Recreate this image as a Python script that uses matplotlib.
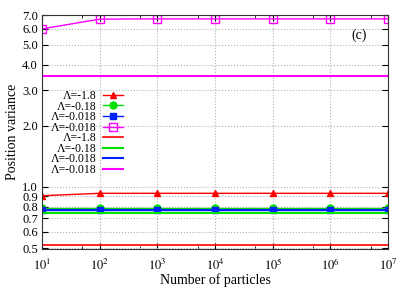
import matplotlib
matplotlib.use('Agg')
import matplotlib.pyplot as plt
from matplotlib.ticker import FixedLocator, NullFormatter, LogLocator

plt.rcParams['font.family'] = ['Liberation Serif', 'DejaVu Serif']
plt.rcParams['mathtext.fontset'] = 'stix'

particles = [1e1, 1e2, 1e3, 1e4, 1e5, 1e6, 1e7]
var_m18 = [0.905, 0.93, 0.93, 0.93, 0.93, 0.93, 0.93]
var_m018 = [0.79, 0.79, 0.79, 0.79, 0.79, 0.79, 0.79]
var_m0018 = [0.768, 0.768, 0.768, 0.768, 0.768, 0.768, 0.768]
var_m0018b = [6.0, 6.7, 6.72, 6.72, 6.72, 6.72, 6.72]
ref_m18 = 0.515
ref_m018 = 0.745
ref_m0018 = 0.77
ref_m0018b = 3.51
labels = ['Λ=-1.8', 'Λ=-0.18', 'Λ=-0.018', 'Λ=-0.018']

fig = plt.figure(figsize=(4.09, 2.87), dpi=100)
ax = fig.add_axes([0.103, 0.132, 0.846, 0.817])

ax.plot(particles, var_m18, color='#ff0000', lw=1, marker='^', ms=4, label=labels[0])
ax.plot(particles, var_m018, color='#00e000', lw=1, marker='o', ms=5, label=labels[1])
ax.plot(particles, var_m0018, color='#0020ff', lw=1, marker='s', ms=4.5, label=labels[2])
ax.plot(particles, var_m0018b, color='#ff00ff', lw=1, marker='s', ms=6, mfc='none', label=labels[3])
ax.axhline(ref_m18, color='#ff0000', lw=1.2, label=labels[0])
ax.axhline(ref_m018, color='#00e000', lw=1.5, label=labels[1])
ax.axhline(ref_m0018, color='#0020ff', lw=1.5, label=labels[2])
ax.axhline(ref_m0018b, color='#ff00ff', lw=1.5, label=labels[3])

ax.set_xscale('log')
ax.set_yscale('log')
ax.set_xlim(1e1, 1e7)
ax.set_ylim(0.494, 7.05)
yt = [0.5, 0.6, 0.7, 0.8, 0.9, 1.0, 2.0, 3.0, 4.0, 5.0, 6.0, 7.0]
ax.yaxis.set_major_locator(FixedLocator(yt))
ax.set_yticklabels(['%.1f' % v for v in yt])
ax.yaxis.set_minor_locator(FixedLocator([]))
ax.yaxis.set_minor_formatter(NullFormatter())
ax.xaxis.set_major_locator(FixedLocator(particles))
ax.set_xticklabels(['$10^{%d}$' % i for i in range(1, 8)])
ax.xaxis.set_minor_locator(LogLocator(base=10, subs=[5.0]))
ax.xaxis.set_minor_formatter(NullFormatter())
ax.tick_params(which='both', direction='in', top=True, right=True, labelsize=9, pad=3)
ax.tick_params(axis='x', which='major', pad=6)
ax.tick_params(which='minor', length=2)
ax.tick_params(which='major', length=4)
ax.grid(True, which='major', color='#b0b0b0', ls=':', lw=0.8)
for s in ax.spines.values():
    s.set_color('#333333')

ax.set_xlabel('Number of particles', fontsize=10, labelpad=0)
ax.set_ylabel('Position variance', fontsize=10, labelpad=2)
ax.text(0.915, 0.91, '(c)', transform=ax.transAxes, fontsize=10, ha='center', va='center')

ax.legend(loc='upper left', bbox_to_anchor=(0.0, 0.714), frameon=False, markerfirst=False,
          fontsize=8.5, handlelength=1.7, handletextpad=0.6, labelspacing=-0.12,
          borderpad=0.2)

fig.savefig('out.png', dpi=100)
